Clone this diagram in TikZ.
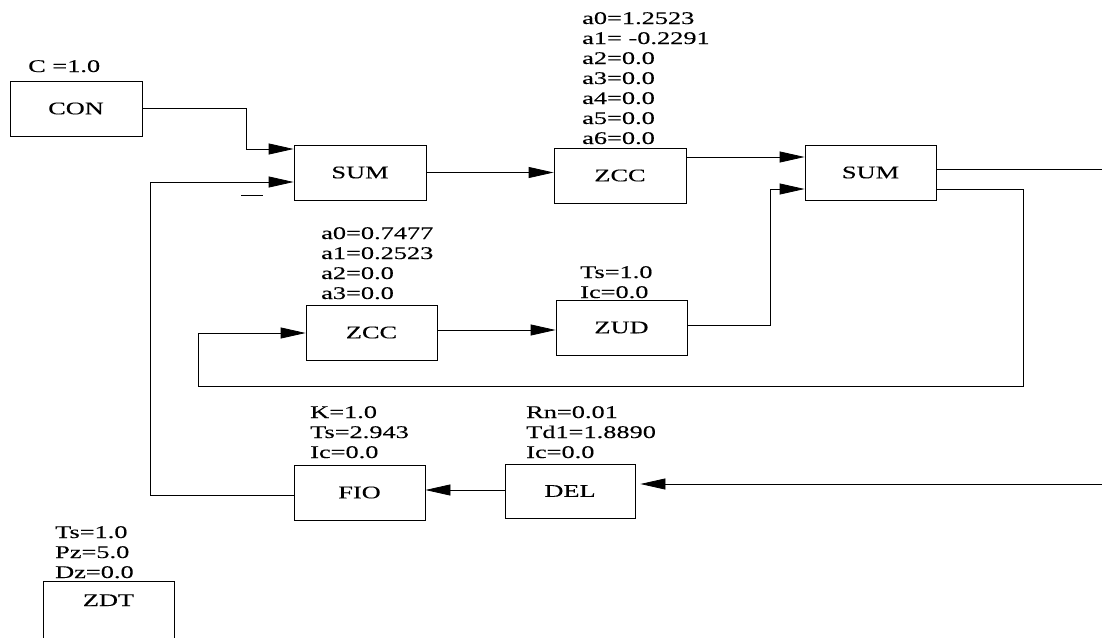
\documentclass[tikz,border=0pt]{standalone}
\usepackage{fontspec}
\setmainfont{Liberation Serif}[FakeStretch=1.48,FakeBold=0.2]
\usetikzlibrary{arrows.meta}
\begin{document}
\begin{tikzpicture}[x=1pt,y=-1pt,
  every node/.style={font=\fontsize{17.8}{20}\selectfont},
  box/.style={draw, line width=0.8pt, minimum width=132pt, minimum height=55pt, inner sep=0pt},
  lab/.style={anchor=base west, inner sep=0pt},
  arr/.style={line width=0.8pt, -{Triangle[length=25pt,width=11pt]}},
  ln/.style={line width=0.8pt}]
\clip (0,0) rectangle (1102,637);
\fill[white] (0,0) rectangle (1102,637);
% boxes
\node[box] (con) at (76,108.5) {CON};
\node[box] (sum1) at (360,172.5) {SUM};
\node[box] (zcc1) at (620,175.5) {ZCC};
\node[box,minimum width=131pt] (sum2) at (870.5,172.5) {SUM};
\node[box,minimum width=131pt] (zcc2) at (371.5,332.5) {ZCC};
\node[box,minimum width=131pt] (zud) at (621.5,327.5) {ZUD};
\node[box,minimum width=131pt] (fio) at (359.5,492.5) {FIO};
\node[box,minimum width=130pt,minimum height=54pt] (del) at (570,491) {DEL};
\node[box,minimum width=131pt,minimum height=62pt,anchor=north] (zdt) at (108.5,581) {};
\node[anchor=base,inner sep=0pt] (zdtt) at ([yshift=-25pt]zdt.north) {ZDT};
% labels
\node[lab] (lcon) at (28,72) {C =1.0};
\node[lab] (lzcc1) at (582,144) {\begin{tabular}[b]{@{}l@{}}a0=1.2523\\a1= -0.2291\\a2=0.0\\a3=0.0\\a4=0.0\\a5=0.0\\a6=0.0\end{tabular}};
\node[lab] (lzcc2) at (321,299) {\begin{tabular}[b]{@{}l@{}}a0=0.7477\\a1=0.2523\\a2=0.0\\a3=0.0\end{tabular}};
\node[lab] (lzud) at (580,298) {\begin{tabular}[b]{@{}l@{}}Ts=1.0\\Ic=0.0\end{tabular}};
\node[lab] (lfio) at (310,458) {\begin{tabular}[b]{@{}l@{}}K=1.0\\Ts=2.943\\Ic=0.0\end{tabular}};
\node[lab] (ldel) at (526,458) {\begin{tabular}[b]{@{}l@{}}Rn=0.01\\Td1=1.8890\\Ic=0.0\end{tabular}};
\node[lab] (lzdt) at (55,578) {\begin{tabular}[b]{@{}l@{}}Ts=1.0\\Pz=5.0\\Dz=0.0\end{tabular}};
% coordinates
\coordinate (p1) at (246,149);
\coordinate (p2) at (150,182);
\coordinate (f1) at (150,495);
\coordinate (q1) at (700,157);
\coordinate (q2) at (770,189);
\coordinate (q3) at (770,325);
\coordinate (out1) at (1102,169);
\coordinate (r1) at (1023,189);
\coordinate (r2) at (1023,386);
\coordinate (r3) at (198,386);
\coordinate (r4) at (198,333);
\coordinate (s1) at (500,330);
\coordinate (in1) at (1102,484);
\coordinate (t1) at (460,490);
\coordinate (m1) at (241,195);
\coordinate (m2) at (263,195);
% connectors
\draw[arr] (con.east) -| (p1) -- (p1 -| sum1.west);
\draw[arr] (f1 -| fio.west) -- (f1) -- (p2) -- (p2 -| sum1.west);
\draw[ln] (m1) -- (m2);
\draw[arr] (sum1.east) -- (sum1.east -| zcc1.west);
\draw[arr] (q1 -| zcc1.east) -- (q1 -| sum2.west);
\draw[arr] (q3 -| zud.east) -- (q3) -- (q2) -- (q2 -| sum2.west);
\draw[ln] (out1 -| sum2.east) -- (out1);
\draw[arr] (r1 -| sum2.east) -- (r1) -- (r2) -- (r3) -- (r4) -- (r4 -| zcc2.west);
\draw[arr] (s1 -| zcc2.east) -- (s1 -| zud.west);
\draw[arr, shorten >=5pt] (in1) -- (in1 -| del.east);
\draw[arr] (t1 -| del.west) -- (t1 -| fio.east);
\end{tikzpicture}
\end{document}
